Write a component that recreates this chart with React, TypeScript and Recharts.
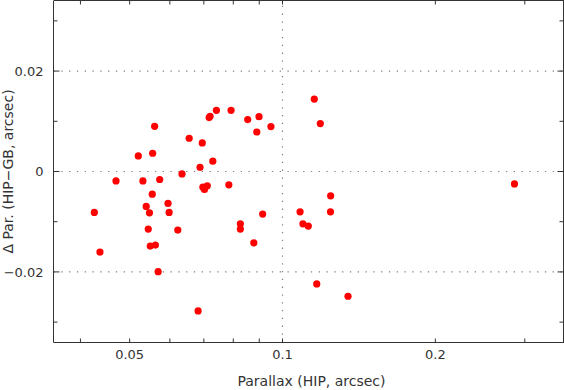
import React from 'react';
import { ScatterChart, Scatter, XAxis, YAxis, ReferenceLine } from 'recharts';

// Parallax (HIP, arcsec)
const parallaxHip = [
  0.0560, 0.0520, 0.0555, 0.0655, 0.0695, 0.0717, 0.0720, 0.0741, 0.0792, 0.0854,
  0.0899, 0.0890, 0.0949, 0.0729, 0.0688, 0.0634, 0.0470, 0.0531, 0.0573, 0.0697,
  0.0702, 0.0711, 0.0784, 0.0554, 0.0539, 0.0595, 0.0547, 0.0598, 0.0426, 0.0914,
  0.1083, 0.1097, 0.1124, 0.0826, 0.0826, 0.0544, 0.0622, 0.0878, 0.0549, 0.0562,
  0.0437, 0.0569, 0.0682, 0.1155, 0.1187, 0.1244, 0.1243, 0.1168, 0.1346, 0.2863,
];
// Δ Par. (HIP−GB, arcsec)
const deltaPar = [
  0.0090, 0.0031, 0.00364, 0.00662, 0.00569, 0.01074, 0.0110, 0.01219, 0.01219, 0.01034,
  0.01093, 0.00787, 0.00895, 0.00205, 0.00085, -0.00048, -0.00187, -0.00187, -0.00159, -0.00312,
  -0.00358, -0.00286, -0.00266, -0.00451, -0.00696, -0.00636, -0.00823, -0.00815, -0.00815, -0.00849,
  -0.00803, -0.01042, -0.01087, -0.01042, -0.01147, -0.01147, -0.01167, -0.0142, -0.01485, -0.01465,
  -0.01604, -0.01996, -0.02777, 0.01443, 0.00954, -0.00485, -0.00803, -0.0224, -0.02485, -0.00247,
];

const xTickValues = [0.04, 0.05, 0.06, 0.07, 0.08, 0.09, 0.1, 0.2, 0.3];
const xTickLabels = ['', '0.05', '', '', '', '', '0.1', '0.2', ''];
const yTickValues = [-0.03, -0.02, -0.01, 0, 0.01, 0.02, 0.03];
const yTickLabels = ['', '−0.02', '', '0', '', '0.02', ''];
const xGridValues = [0.1];
const yGridValues = [-0.02, 0, 0.02];

const xDomain: [number, number] = [0.0354, 0.3576];
const yDomain: [number, number] = [-0.03406, 0.03406];

const data = parallaxHip.map((x, i) => ({ x, y: deltaPar[i] }));

const FONT = '"DejaVu Sans", sans-serif';
const AXIS = '#333333';
const TEXT = '#333333';
const GRID = '#808080';

const W = 564;
const H = 390;
const M_TOP = 0.5;
const M_RIGHT = 0.5;
const LEFT_W = 53.5;
const BOTTOM_H = 47.5;
const TOP_Y = M_TOP;
const RIGHT_X = W - M_RIGHT;

const xLabel = (v: number) => xTickLabels[xTickValues.indexOf(v)] || '';
const yLabel = (v: number) => yTickLabels[yTickValues.indexOf(v)] || '';

function BottomTick(props: any) {
  const { x, y, payload } = props;
  const lab = xLabel(payload.value);
  return (
    <g>
      <line x1={x} x2={x} y1={y} y2={y - 4} stroke={AXIS} strokeWidth={1} />
      <line x1={x} x2={x} y1={TOP_Y} y2={TOP_Y + 4} stroke={AXIS} strokeWidth={1} />
      {lab && (
        <text x={x} y={y + 16} textAnchor="middle" fontSize={13} fill={TEXT} fontFamily={FONT}>
          {lab}
        </text>
      )}
    </g>
  );
}

function LeftTick(props: any) {
  const { x, y, payload } = props;
  const lab = yLabel(payload.value);
  const len = lab ? 6 : 4;
  return (
    <g>
      <line x1={x} x2={x + len} y1={y} y2={y} stroke={AXIS} strokeWidth={1} />
      <line x1={RIGHT_X} x2={RIGHT_X - len} y1={y} y2={y} stroke={AXIS} strokeWidth={1} />
      {lab && (
        <text x={x - 10} y={y + 4.7} textAnchor="end" fontSize={13} fill={TEXT} fontFamily={FONT}>
          {lab}
        </text>
      )}
    </g>
  );
}

const Dot = (props: any) => <circle cx={props.cx} cy={props.cy} r={3.6} fill="#ff0000" />;

export default function App() {
  return (
    <div style={{ position: 'absolute', left: 0, top: 0, width: W, height: H, background: '#fff' }}>
      <ScatterChart width={W} height={H} margin={{ top: M_TOP, right: M_RIGHT, bottom: 0, left: 0 }}>
        <XAxis
          dataKey="x"
          type="number"
          scale="log"
          domain={xDomain}
          allowDataOverflow
          ticks={xTickValues}
          interval={0}
          tickSize={0}
          tickMargin={0}
          tickLine={false}
          tick={<BottomTick />}
          height={BOTTOM_H}
          axisLine={{ stroke: AXIS, strokeWidth: 1 }}
          label={(p: any) => {
            const vb = p.viewBox || {};
            const left = vb.x ?? LEFT_W;
            const width = vb.width ?? W - LEFT_W - M_RIGHT;
            return (
              <text
                x={left + width / 2 + 3}
                y={386}
                textAnchor="middle"
                fontSize={14}
                fill={TEXT}
                fontFamily={FONT}
              >
                Parallax (HIP, arcsec)
              </text>
            );
          }}
        />
        <YAxis
          dataKey="y"
          type="number"
          domain={yDomain}
          allowDataOverflow
          ticks={yTickValues}
          interval={0}
          tickSize={0}
          tickMargin={0}
          tickLine={false}
          tick={<LeftTick />}
          width={LEFT_W}
          axisLine={{ stroke: AXIS, strokeWidth: 1 }}
          label={() => (
            <text
              x={12.5}
              y={171.5}
              transform="rotate(-90, 12.5, 171.5)"
              textAnchor="middle"
              fontSize={14}
              fill={TEXT}
              fontFamily={FONT}
            >
              Δ Par. (HIP−GB, arcsec)
            </text>
          )}
        />
        {yGridValues.map((v) => (
          <ReferenceLine key={'gy' + v} y={v} stroke={GRID} strokeWidth={1.2} strokeDasharray="1.3 6.5" />
        ))}
        {xGridValues.map((v) => (
          <ReferenceLine key={'gx' + v} x={v} stroke={GRID} strokeWidth={1.2} strokeDasharray="1.3 6.5" />
        ))}
        <Scatter data={data} shape={<Dot />} isAnimationActive={false} />
      </ScatterChart>
      {/* plot frame: top and right edges */}
      <div
        style={{
          position: 'absolute',
          left: LEFT_W,
          top: 0,
          width: W - LEFT_W - 1,
          height: H - BOTTOM_H - 1,
          borderTop: `1px solid ${AXIS}`,
          borderRight: `1px solid ${AXIS}`,
          pointerEvents: 'none',
          boxSizing: 'content-box',
        }}
      />
    </div>
  );
}
